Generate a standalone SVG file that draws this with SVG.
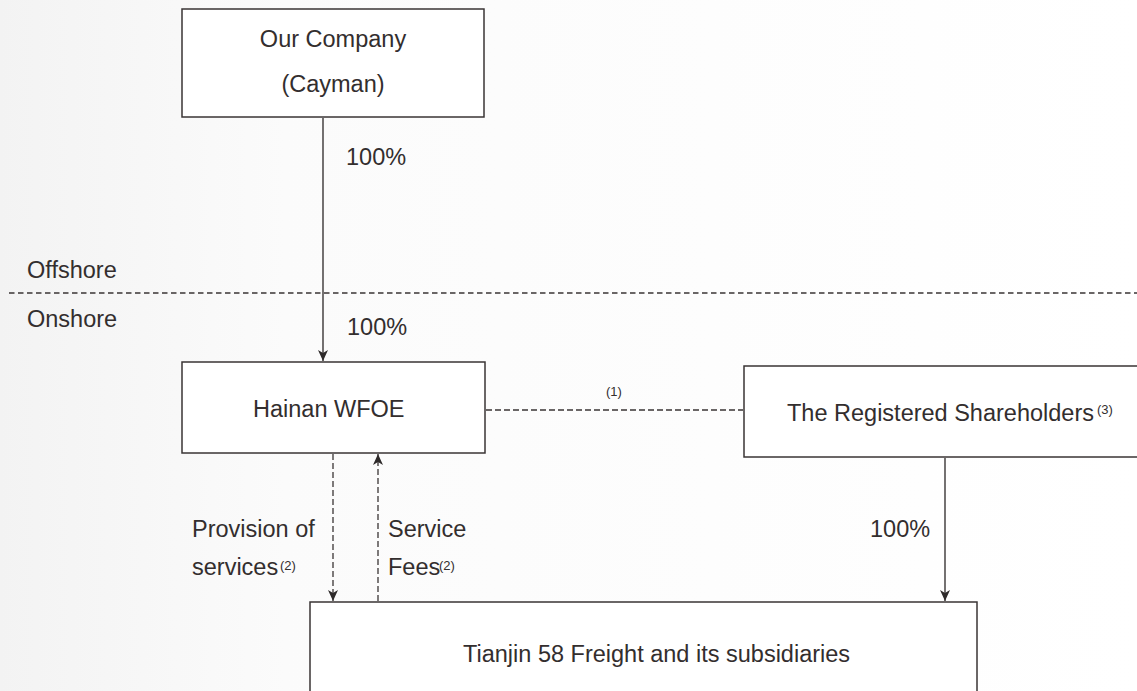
<svg xmlns="http://www.w3.org/2000/svg" width="1137" height="691" viewBox="0 0 1137 691">
  <defs>
    <linearGradient id="bg" x1="0" y1="0" x2="1" y2="0">
      <stop offset="0" stop-color="#f3f3f3"/>
      <stop offset="0.25" stop-color="#fbfbfb"/>
      <stop offset="1" stop-color="#ffffff"/>
    </linearGradient>
    <marker id="arr" markerUnits="userSpaceOnUse" markerWidth="12" markerHeight="10" refX="11" refY="5" orient="auto" viewBox="0 0 12 10">
      <path d="M0,0 L11,5 L0,10 L3,5 Z" fill="#2e2a2a"/>
    </marker>
  </defs>
  <style>
    .box { fill: #ffffff; stroke: #3a3535; stroke-width: 1.5; }
    .t { font-family: "Liberation Sans", Arial, sans-serif; font-size: 23.5px; fill: #332e2e; }
    .s { font-family: "Liberation Sans", Arial, sans-serif; font-size: 13px; fill: #332e2e; }
    .line { stroke: #3a3535; stroke-width: 1.4; fill: none; }
    .dash { stroke: #3a3535; stroke-width: 1.3; fill: none; stroke-dasharray: 6 3; }
  </style>
  <rect x="0" y="0" width="1137" height="691" fill="url(#bg)"/>

  <g id="zones">
    <text class="t" x="27" y="278">Offshore</text>
    <line class="dash" x1="9" y1="293" x2="1137" y2="293" style="stroke-dasharray:5.5 3.5"/>
    <text class="t" x="27" y="327">Onshore</text>
  </g>

  <g id="node-company">
    <rect class="box" x="182" y="9" width="302" height="108"/>
    <text class="t" x="333" y="47" text-anchor="middle">Our Company</text>
    <text class="t" x="333" y="92" text-anchor="middle">(Cayman)</text>
  </g>

  <g id="node-wfoe">
    <rect class="box" x="182" y="362" width="303" height="91"/>
    <text class="t" x="253" y="417">Hainan WFOE</text>
  </g>

  <g id="node-shareholders">
    <rect class="box" x="744" y="366" width="420" height="91"/>
    <text class="t" x="787" y="421">The Registered Shareholders</text>
    <text class="s" x="1097" y="414">(3)</text>
  </g>

  <g id="node-tianjin">
    <rect class="box" x="310" y="602" width="667" height="120"/>
    <text class="t" x="463" y="662">Tianjin 58 Freight and its subsidiaries</text>
  </g>

  <g id="connectors">
    <line class="line" x1="323" y1="118" x2="323" y2="361" marker-end="url(#arr)"/>
    <text class="t" x="346" y="165">100%</text>
    <text class="t" x="347" y="335">100%</text>

    <line class="dash" x1="486" y1="410" x2="743" y2="410"/>
    <text class="s" x="606" y="396">(1)</text>

    <line class="dash" x1="333" y1="454" x2="333" y2="601" marker-end="url(#arr)"/>
    <line class="dash" x1="378" y1="601" x2="378" y2="454" marker-end="url(#arr)"/>
    <text class="t" x="192" y="537">Provision of</text>
    <text class="t" x="192" y="575">services<tspan class="s" x="280" y="570">(2)</tspan></text>
    <text class="t" x="388" y="537">Service</text>
    <text class="t" x="388" y="575">Fees<tspan class="s" x="439" y="570">(2)</tspan></text>

    <line class="line" x1="945" y1="458" x2="945" y2="601" marker-end="url(#arr)"/>
    <text class="t" x="870" y="537">100%</text>
  </g>
</svg>
